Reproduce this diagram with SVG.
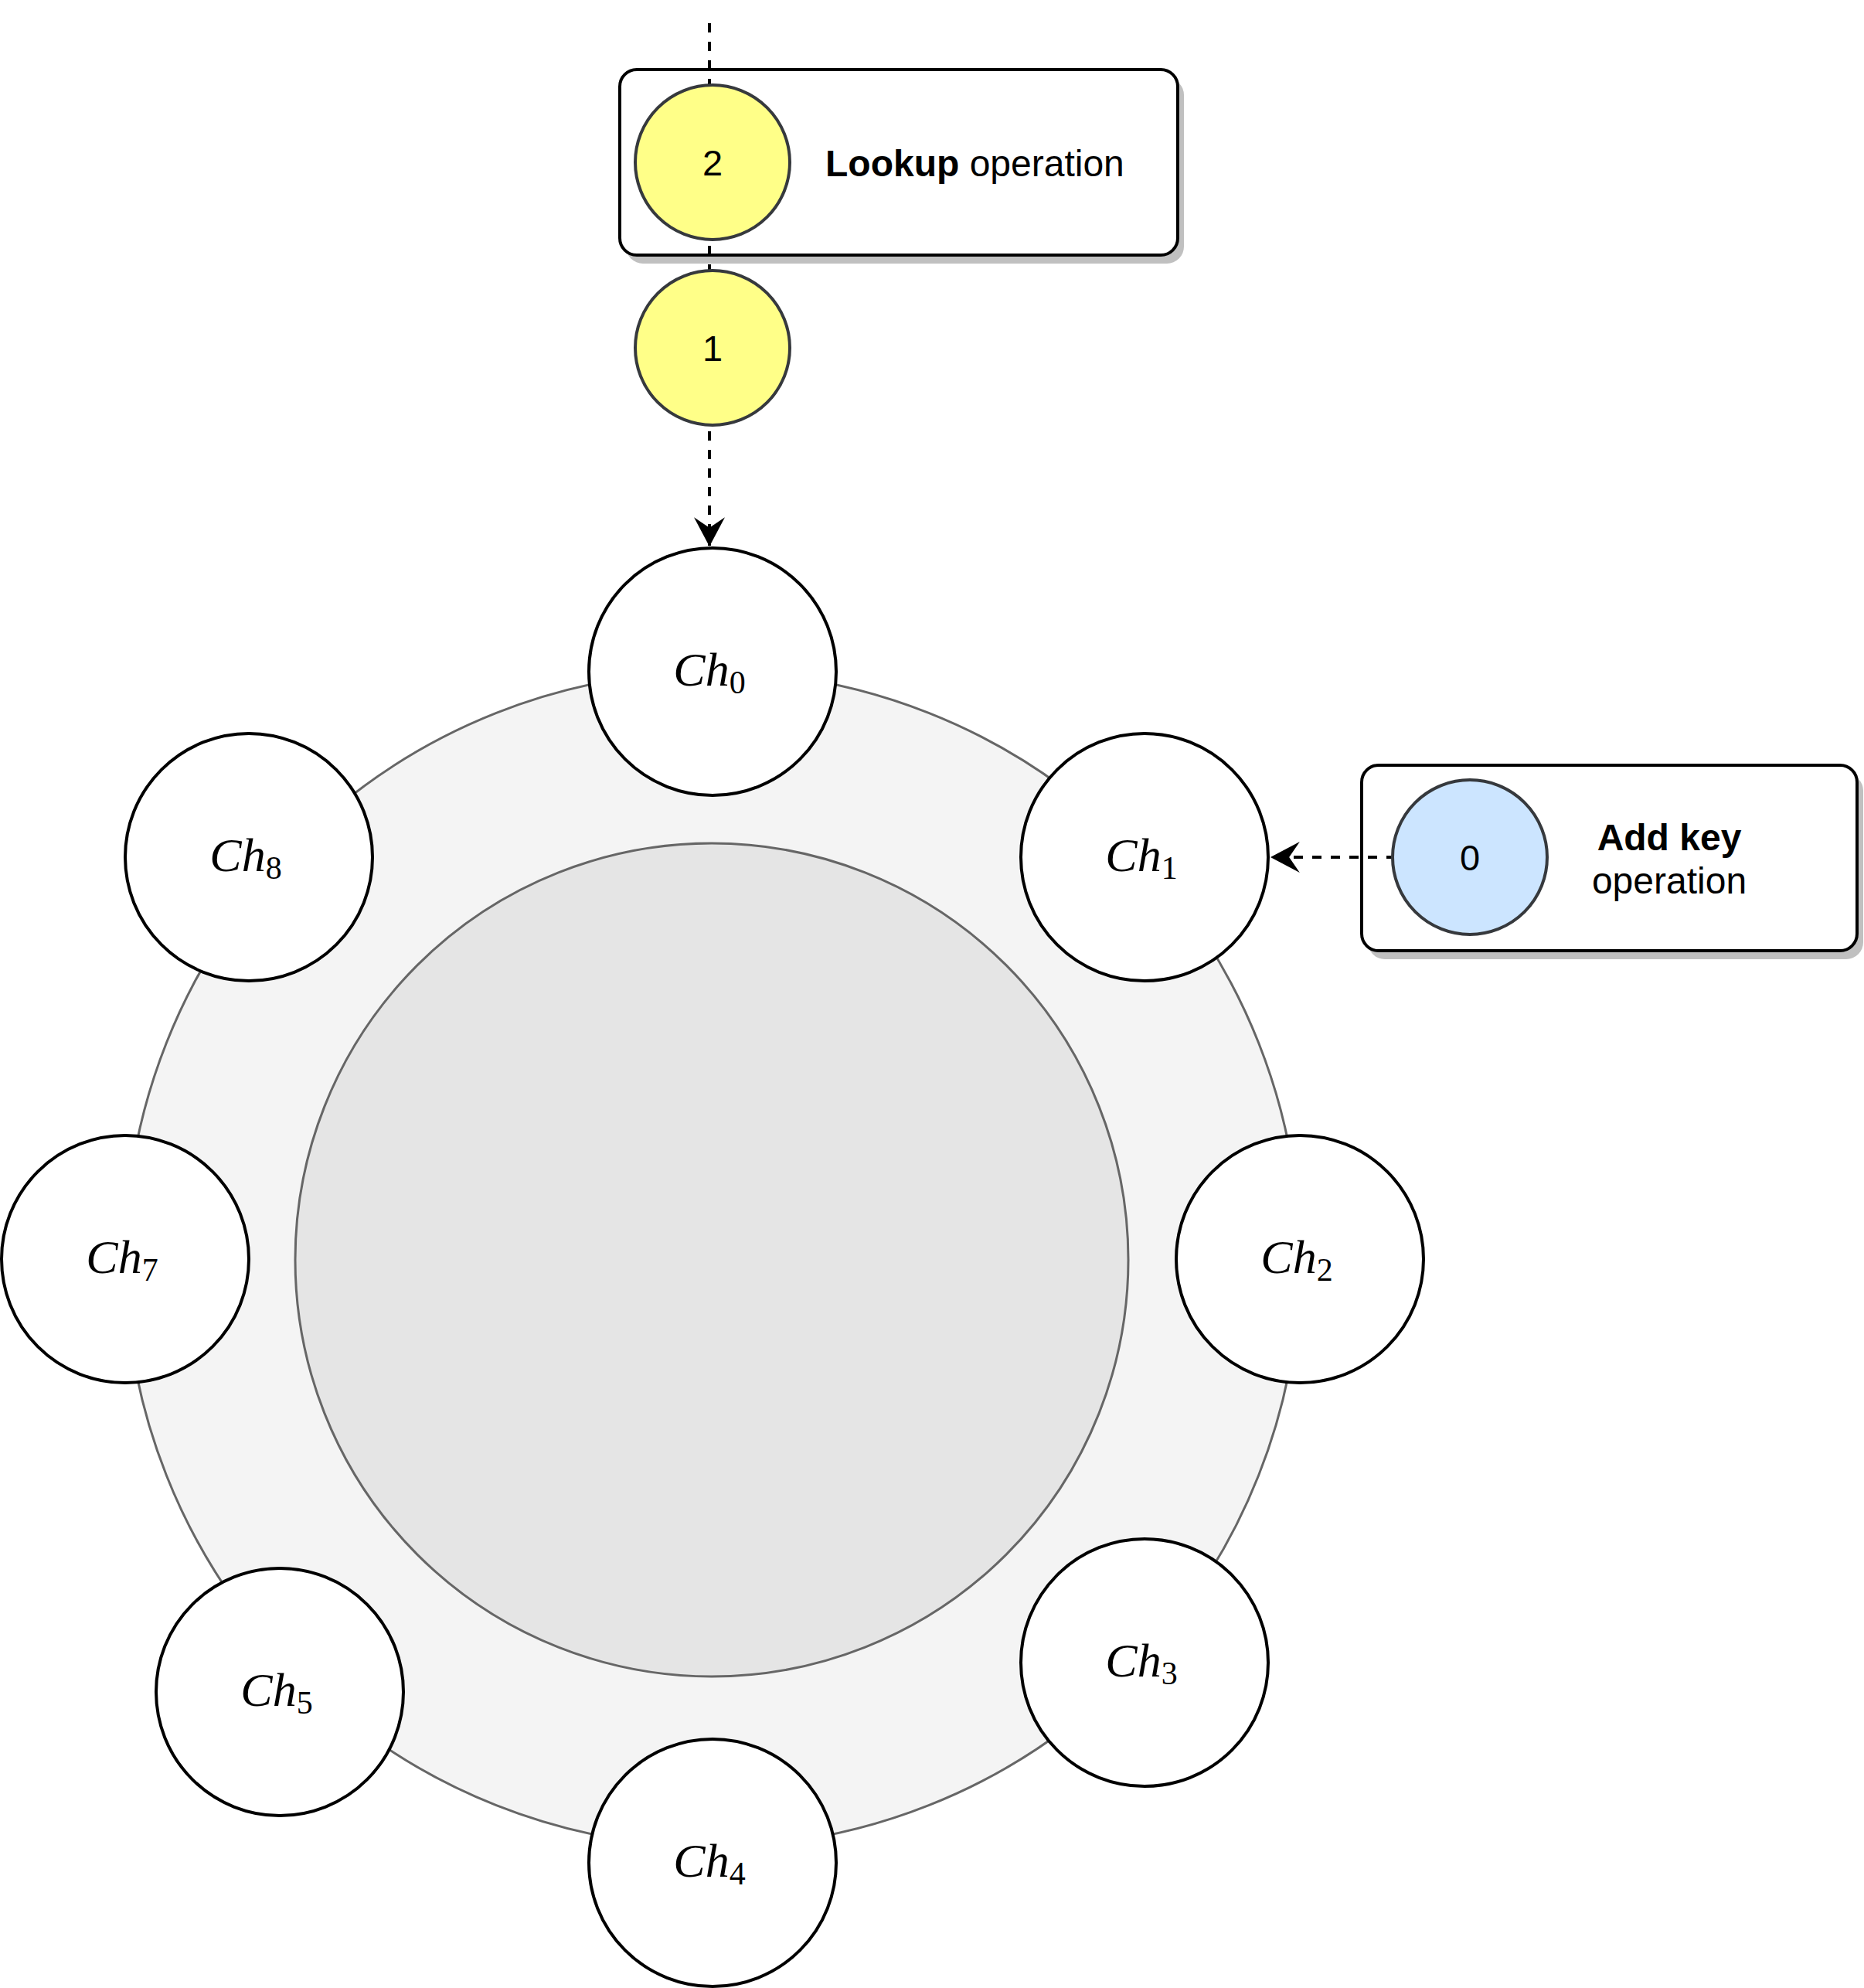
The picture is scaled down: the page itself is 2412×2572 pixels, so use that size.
<svg xmlns="http://www.w3.org/2000/svg" width="2412" height="2572" viewBox="0 0 2412 2572">
  <defs>
    <style>
      .ring-outer { fill: #f4f4f4; stroke: #666666; stroke-width: 3; }
      .ring-inner { fill: #e5e5e5; stroke: #666666; stroke-width: 3; }
      .ch { fill: #ffffff; stroke: #000000; stroke-width: 4; }
      .chlbl { font-family: "Liberation Serif", "DejaVu Serif", serif; font-style: italic; font-size: 62px; fill: #000; text-anchor: middle; }
      .sub { font-style: normal; font-size: 42px; }
      .box { fill: #ffffff; stroke: #000000; stroke-width: 4; }
      .shadow { fill: #c0c0c0; stroke: none; }
      .step-y { fill: #ffff88; stroke: #36393d; stroke-width: 4; }
      .step-b { fill: #cce5ff; stroke: #36393d; stroke-width: 4; }
      .num { font-family: "Liberation Sans", Arial, sans-serif; font-size: 47px; fill: #000; text-anchor: middle; }
      .lbl { font-family: "Liberation Sans", Arial, sans-serif; font-size: 48px; fill: #000; }
      .dash { fill: none; stroke: #000000; stroke-width: 4; stroke-dasharray: 12 12; }
    </style>
    <marker id="arrow" markerUnits="userSpaceOnUse" markerWidth="40" markerHeight="40" viewBox="0 0 36 38" refX="35" refY="19" orient="auto">
      <path d="M0,0 L36,19 L0,38 L13,19 Z" fill="#000000"/>
    </marker>
  </defs>

  <g id="ring">
    <circle class="ring-outer" cx="922" cy="1629" r="760"/>
    <circle class="ring-inner" cx="921" cy="1630" r="539"/>
  </g>

  <g id="lookup-box">
    <rect class="shadow" x="810" y="101" width="722" height="240" rx="22"/>
    <rect class="box" x="802" y="90" width="722" height="240" rx="22"/>
    <text class="lbl" x="1068" y="228"><tspan font-weight="bold">Lookup</tspan> operation</text>
  </g>

  <g id="addkey-box">
    <rect class="shadow" x="1770" y="1001" width="641" height="240" rx="22"/>
    <rect class="box" x="1762" y="990" width="641" height="240" rx="22"/>
    <text class="lbl" x="2160" y="1100" text-anchor="middle" font-weight="bold">Add key</text>
    <text class="lbl" x="2160" y="1156" text-anchor="middle">operation</text>
  </g>

  <g id="connectors">
    <line class="dash" x1="918" y1="30" x2="918" y2="706" marker-end="url(#arrow)"/>
    <line class="dash" x1="1902" y1="1109" x2="1645" y2="1109" marker-end="url(#arrow)"/>
  </g>

  <g id="ch0"><circle class="ch" cx="922" cy="869" r="160"/><text class="chlbl" x="918" y="887">Ch<tspan class="sub" dy="10">0</tspan></text></g>
  <g id="ch1"><circle class="ch" cx="1481" cy="1109" r="160"/><text class="chlbl" x="1477" y="1127">Ch<tspan class="sub" dy="10">1</tspan></text></g>
  <g id="ch2"><circle class="ch" cx="1682" cy="1629" r="160"/><text class="chlbl" x="1678" y="1647">Ch<tspan class="sub" dy="10">2</tspan></text></g>
  <g id="ch3"><circle class="ch" cx="1481" cy="2151" r="160"/><text class="chlbl" x="1477" y="2169">Ch<tspan class="sub" dy="10">3</tspan></text></g>
  <g id="ch4"><circle class="ch" cx="922" cy="2410" r="160"/><text class="chlbl" x="918" y="2428">Ch<tspan class="sub" dy="10">4</tspan></text></g>
  <g id="ch5"><circle class="ch" cx="362" cy="2189" r="160"/><text class="chlbl" x="358" y="2207">Ch<tspan class="sub" dy="10">5</tspan></text></g>
  <g id="ch7"><circle class="ch" cx="162" cy="1629" r="160"/><text class="chlbl" x="158" y="1647">Ch<tspan class="sub" dy="10">7</tspan></text></g>
  <g id="ch8"><circle class="ch" cx="322" cy="1109" r="160"/><text class="chlbl" x="318" y="1127">Ch<tspan class="sub" dy="10">8</tspan></text></g>

  <g id="step2">
    <circle class="step-y" cx="922" cy="210" r="100"/>
    <text class="num" x="922" y="227">2</text>
  </g>
  <g id="step1">
    <circle class="step-y" cx="922" cy="450" r="100"/>
    <text class="num" x="922" y="467">1</text>
  </g>
  <g id="step0">
    <circle class="step-b" cx="1902" cy="1109" r="100"/>
    <text class="num" x="1902" y="1126">0</text>
  </g>
</svg>
